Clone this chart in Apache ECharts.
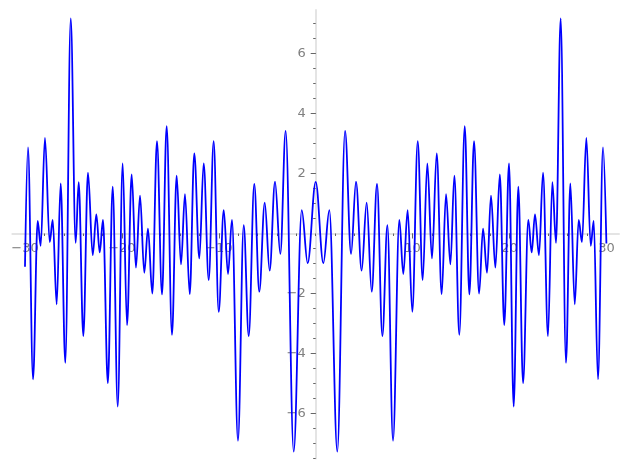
<!DOCTYPE html>
<html>
<head>
<meta charset="utf-8">
<script src="https://cdn.jsdelivr.net/npm/echarts@6/dist/echarts.min.js"></script>
<style>
  html, body { margin: 0; padding: 0; background: #fff; }
  #main { width: 627px; height: 470px; }
</style>
</head>
<body>
<div id="main"></div>
<script>
// local extrema of the curve
const xs = [
  -30.0, -29.69, -29.17, -28.69, -28.38, -27.94, -27.45, -27.14, -26.73, -26.32,
  -25.84, -25.28, -24.77, -24.46, -23.98, -23.5, -23.01, -22.64, -22.29, -21.95,
  -21.45, -20.95, -20.43, -19.92, -19.47, -18.99, -18.55, -18.13, -17.69, -17.31,
  -16.86, -16.38, -15.86, -15.38, -14.83, -14.35, -13.9, -13.49, -13.0, -12.53,
  -12.01, -11.56, -11.04, -10.53, -10.01, -9.49, -9.05, -8.64, -8.02, -7.43,
  -6.91, -6.34, -5.82, -5.26, -4.75, -4.2, -3.65, -3.1, -2.27, -1.44,
  -0.83, 0,
  0.79, 1.41, 2.23, 3.03, 3.65, 4.16, 4.74, 5.26, 5.78, 6.33,
  6.88, 7.4, 7.98, 8.63, 9.04, 9.49, 9.97, 10.53, 11.04, 11.52,
  12.0, 12.49, 13.0, 13.45, 13.9, 14.31, 14.82, 15.38, 15.86, 16.34,
  16.86, 17.27, 17.68, 18.09, 18.54, 19.0, 19.46, 19.95, 20.43, 20.91,
  21.4, 21.94, 22.29, 22.63, 23.04, 23.46, 23.97, 24.42, 24.8, 25.28,
  25.83, 26.28, 26.73, 27.14, 27.48, 27.93, 28.38, 28.69, 29.13, 29.65,
  30.0
]
const ys = [
  -1.11, 2.87, -4.86, 0.42, -0.41, 3.19, -0.29, 0.45, -2.36, 1.67,
  -4.31, 7.17, -0.31, 1.71, -3.42, 2.03, -0.72, 0.64, -0.63, 0.45,
  -4.99, 1.56, -5.77, 2.34, -3.05, 1.97, -1.14, 1.26, -1.31, 0.16,
  -2.0, 3.08, -2.03, 3.58, -3.38, 1.93, -1.03, 1.31, -2.02, 2.67,
  -0.83, 2.34, -1.55, 3.08, -2.61, 0.78, -1.35, 0.45, -6.91, 0.28,
  -3.42, 1.65, -1.94, 1.03, -1.24, 1.73, -0.68, 3.42, -7.27, 0.78,
  -0.99, 1.72,
  -0.99, 0.78, -7.27, 3.42, -0.68, 1.73, -1.24, 1.03, -1.94, 1.65,
  -3.42, 0.28, -6.91, 0.45, -1.35, 0.78, -2.61, 3.08, -1.55, 2.34,
  -0.83, 2.67, -2.02, 1.31, -1.03, 1.93, -3.38, 3.58, -2.03, 3.08,
  -2.0, 0.16, -1.31, 1.26, -1.14, 1.97, -3.05, 2.34, -5.77, 1.56,
  -4.99, 0.45, -0.63, 0.64, -0.72, 2.03, -3.42, 1.71, -0.31, 7.17,
  -4.31, 1.67, -2.36, 0.45, -0.29, 3.19, -0.41, 0.42, -4.86, 2.87,
  -0.33
]

const xMajorTicks = [-30, -20, -10, 10, 20, 30]
const xMinorTicks = [
  -30, -28, -26, -24, -22, -20, -18, -16, -14, -12, -10, -8, -6, -4, -2, 0,
  2, 4, 6, 8, 10, 12, 14, 16, 18, 20, 22, 24, 26, 28, 30
]
const yMajorTicks = [-6, -4, -2, 2, 4, 6]
const yMinorTicks = [
  -7.5, -7, -6.5, -6, -5.5, -5, -4.5, -4, -3.5, -3, -2.5, -2, -1.5, -1, -0.5,
  0.5, 1, 1.5, 2, 2.5, 3, 3.5, 4, 4.5, 5, 5.5, 6, 6.5, 7
]

const chart = echarts.init(document.getElementById('main'), null, { renderer: 'canvas' })

const axisLine = { color: '#e4e4e4', width: 2 }
const tickLine = { color: '#666', width: 1 }
const label = { color: '#808080', fontSize: 13, fontFamily: 'DejaVu Sans' }
// matplotlib style minus sign
const fmt = (v) => String(v).replace('-', '\u2212')

const X_MIN = -31.3, X_MAX = 31.3
const Y_MIN = -7.5, Y_MAX = 7.45

const xRange = { type: 'value', min: X_MIN, max: X_MAX, position: 'bottom', splitLine: { show: false } }
const yRange = { type: 'value', min: Y_MIN, max: Y_MAX, position: 'left', splitLine: { show: false } }

const option = {
  animation: false,
  backgroundColor: '#fff',
  grid: { left: 12.4, right: 8, top: 10, bottom: 11.5, containLabel: false, outerBoundsMode: 'none' },
  xAxis: [
    {
      ...xRange,
      axisLine: { show: true, onZero: true, lineStyle: axisLine },
      axisTick: { show: true, customValues: xMinorTicks, length: 2.5, lineStyle: tickLine },
      axisLabel: { show: false },
    },
    {
      // major ticks + labels, shifted onto the zero line below
      ...xRange,
      axisLine: { show: false, onZero: false },
      axisTick: { show: true, customValues: xMajorTicks, length: 5, lineStyle: tickLine },
      axisLabel: { show: true, customValues: xMajorTicks, formatter: fmt, margin: 9, ...label },
    },
  ],
  yAxis: [
    {
      ...yRange,
      axisLine: { show: true, onZero: true, lineStyle: axisLine },
      axisTick: { show: true, customValues: yMinorTicks, length: 2.5, lineStyle: tickLine },
      axisLabel: { show: false },
    },
    {
      ...yRange,
      axisLine: { show: false, onZero: false },
      axisTick: { show: true, customValues: yMajorTicks, length: 5, lineStyle: tickLine },
      axisLabel: { show: true, customValues: yMajorTicks, formatter: fmt, margin: 10, ...label },
    },
  ],
  series: [
    {
      type: 'line',
      xAxisIndex: 0,
      yAxisIndex: 0,
      data: xs.map((x, i) => [x, ys[i]]),
      smooth: 0.36,
      smoothMonotone: 'x',
      showSymbol: false,
      lineStyle: { color: '#0000ff', width: 1.8 },
    },
  ],
}

chart.setOption(option)

// move the major-tick axes onto the origin
const zeroX = chart.convertToPixel({ xAxisIndex: 0 }, 0)
const zeroY = chart.convertToPixel({ yAxisIndex: 0 }, 0)
const leftPx = chart.convertToPixel({ xAxisIndex: 0 }, X_MIN)
const bottomPx = chart.convertToPixel({ yAxisIndex: 0 }, Y_MIN)
chart.setOption({
  xAxis: [{}, { offset: -(bottomPx - zeroY) }],
  yAxis: [{}, { offset: -(zeroX - leftPx) }],
})
</script>
</body>
</html>
